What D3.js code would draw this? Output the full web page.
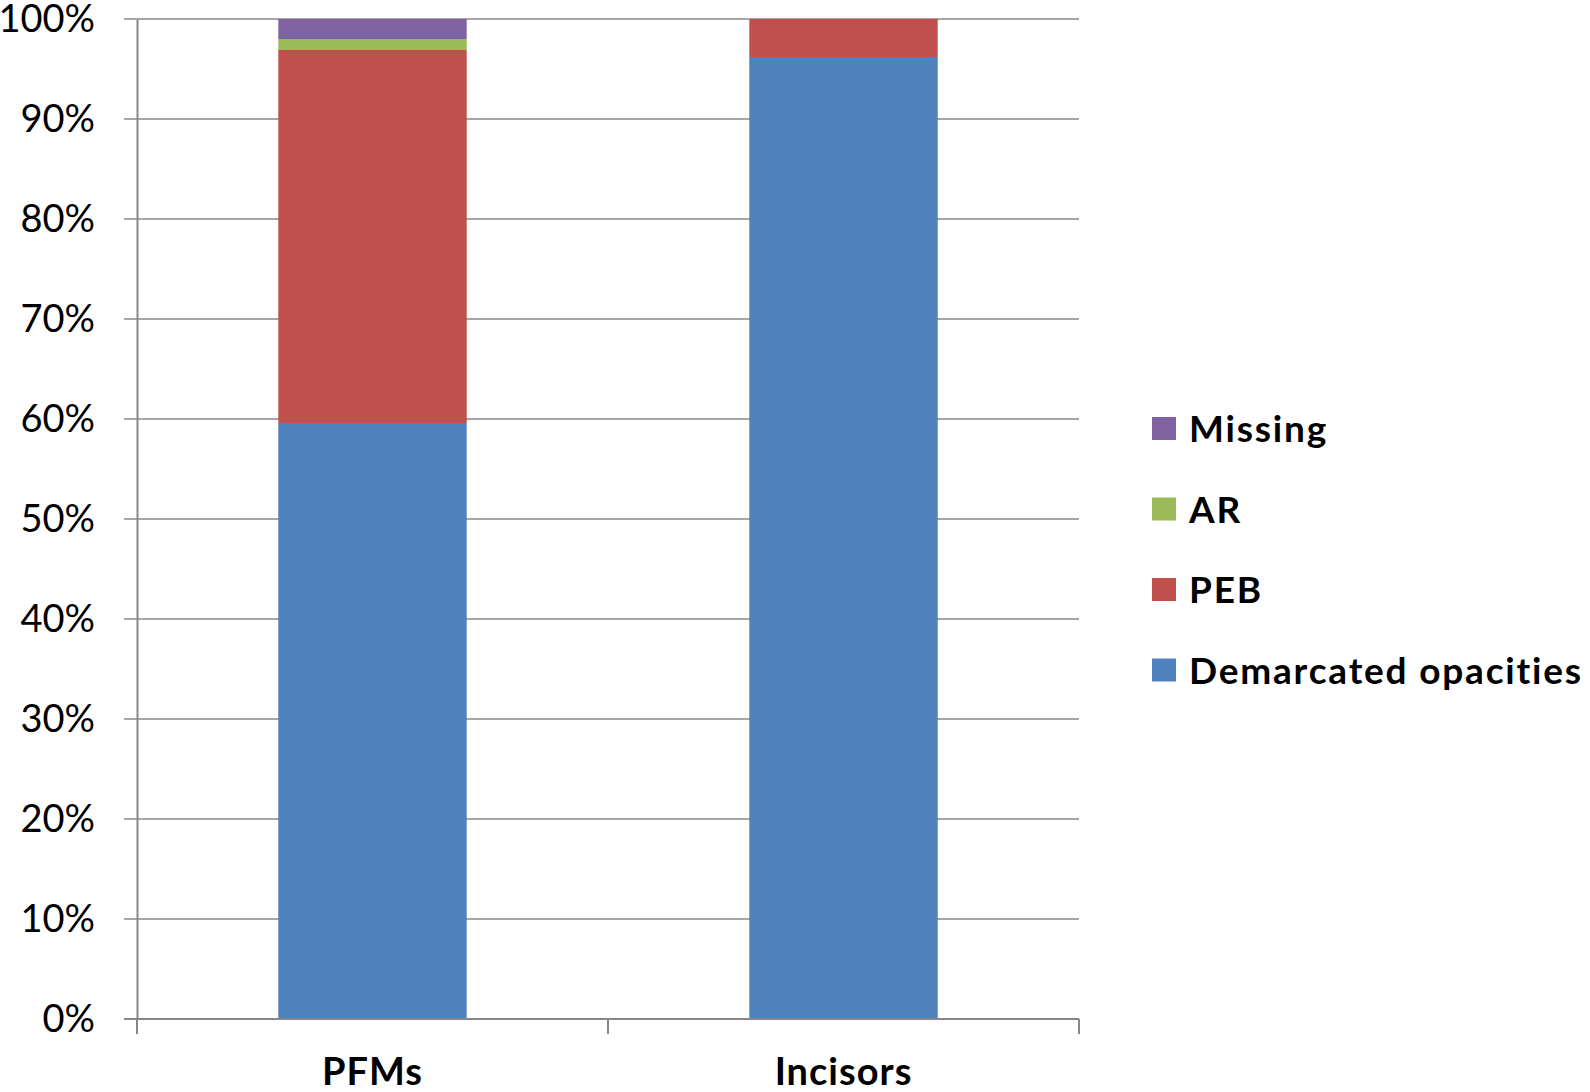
<!DOCTYPE html>
<html lang="en">
    <head>
        <meta charset="utf-8">
        <title>Stacked bars</title>
        <script src="https://d3js.org/d3.v7.min.js"></script>
        <style type="text/css">
            html, body { margin: 0; padding: 0; background: #fff; overflow: hidden; }
            svg { display: block; }
            text { font-family: Lato, "Open Sans", sans-serif; fill: #000; }
        </style>
    </head>
    <body>
        <script>
            // data (percent of each group)
            var categories = ["PFMs", "Incisors"];
            var seriesNames = ["Demarcated opacities", "PEB", "AR", "Missing"];
            var demarcated = [59.6, 96.2];
            var peb = [37.3, 3.8];
            var ar = [1.1, 0];
            var missing = [2.0, 0];
            var yTicks = [0, 10, 20, 30, 40, 50, 60, 70, 80, 90, 100];
            var colors = ["#4F81BD", "#C0504D", "#9BBB59", "#8064A2"];

            // configuration code
            var outerWidth = 1590;
            var outerHeight = 1092;
            var margin = { left: 137, top: 19, right: 511, bottom: 73 };
            var innerWidth = outerWidth - margin.left - margin.right;
            var innerHeight = outerHeight - margin.top - margin.bottom;

            var table = categories.map(function(c, i) {
                return {
                    cat: c,
                    "Demarcated opacities": demarcated[i],
                    "PEB": peb[i],
                    "AR": ar[i],
                    "Missing": missing[i]
                };
            });

            var svg = d3.select("body")
                .append("svg")
                .attr("width", outerWidth)
                .attr("height", outerHeight);

            var g = svg.append("g")
                .attr("transform", "translate(" + margin.left + "," + margin.top + ")");

            var xScale = d3.scaleBand().domain(categories).range([0, innerWidth])
                .paddingInner(0.6).paddingOuter(0.3);
            var yScale = d3.scaleLinear().domain([0, 100]).range([innerHeight, 0]);
            var colorScale = d3.scaleOrdinal().domain(seriesNames).range(colors);

            // gridlines with short tick marks to the left
            g.selectAll(".grid")
                .data(yTicks.filter(function(d) { return d > 0; }))
                .enter().append("line")
                .attr("class", "grid")
                .attr("x1", -13)
                .attr("x2", innerWidth)
                .attr("y1", function(d) { return yScale(d); })
                .attr("y2", function(d) { return yScale(d); })
                .attr("stroke", "#A6A6A6")
                .attr("stroke-width", 2);

            // stacked bars
            var stacked = d3.stack().keys(seriesNames)(table);

            g.selectAll(".series")
                .data(stacked)
                .enter().append("g")
                .attr("class", "series")
                .attr("fill", function(d) { return colorScale(d.key); })
                .selectAll("rect")
                .data(function(d) { return d; })
                .enter().append("rect")
                .attr("x", function(d) { return xScale(d.data.cat); })
                .attr("width", xScale.bandwidth())
                .attr("y", function(d) { return yScale(d[1]); })
                .attr("height", function(d) { return yScale(d[0]) - yScale(d[1]); });

            // y axis
            var yAxis = d3.axisLeft(yScale)
                .tickValues(yTicks)
                .tickSize(0)
                .tickPadding(42)
                .tickFormat(function(d) { return d + "%"; });

            var yG = g.append("g").call(yAxis);
            yG.select(".domain").attr("stroke", "#868686").attr("stroke-width", 2);
            yG.selectAll("text")
                .style("font-family", "Lato, sans-serif")
                .style("font-size", "38px")
                .attr("fill", "#000");

            // x axis
            var xG = g.append("g").attr("transform", "translate(0," + innerHeight + ")");
            xG.append("line")
                .attr("x1", -13).attr("x2", innerWidth)
                .attr("stroke", "#868686").attr("stroke-width", 2);

            var boundaries = [0].concat(categories.map(function(c) {
                return xScale(c) + xScale.bandwidth() / 2 + xScale.step() / 2;
            }));
            xG.selectAll(".xtick")
                .data(boundaries)
                .enter().append("line")
                .attr("class", "xtick")
                .attr("x1", function(d) { return d; })
                .attr("x2", function(d) { return d; })
                .attr("y1", 0).attr("y2", 15)
                .attr("stroke", "#868686").attr("stroke-width", 2);

            xG.selectAll(".xlabel")
                .data(categories)
                .enter().append("text")
                .attr("class", "xlabel")
                .attr("x", function(d) { return xScale(d) + xScale.bandwidth() / 2; })
                .attr("y", 66)
                .attr("text-anchor", "middle")
                .style("font-size", "38px")
                .style("font-weight", "bold")
                .style("letter-spacing", "1px")
                .text(function(d) { return d; });

            // legend (top item is Missing)
            var legendItems = seriesNames.slice().reverse();
            var legend = svg.selectAll(".legend")
                .data(legendItems)
                .enter().append("g")
                .attr("class", "legend")
                .attr("transform", function(d, i) { return "translate(1152," + (417 + i * 80.5) + ")"; });

            legend.append("rect")
                .attr("width", 24)
                .attr("height", 23)
                .attr("fill", function(d) { return colorScale(d); });

            legend.append("text")
                .attr("x", 37)
                .attr("y", 25)
                .style("font-size", "37px")
                .style("font-weight", "bold")
                .style("letter-spacing", "1.8px")
                .text(function(d) { return d; });
        </script>
    </body>
</html>
